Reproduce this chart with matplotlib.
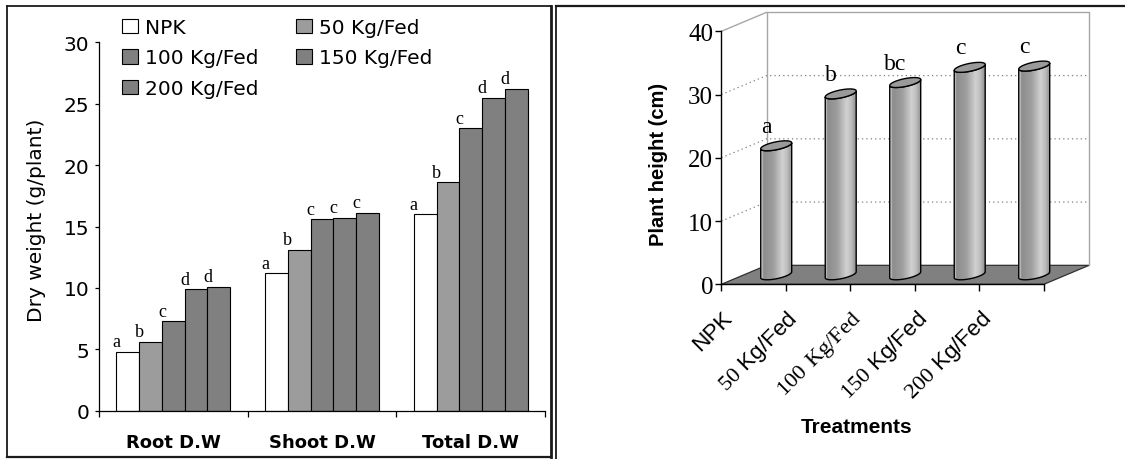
import numpy as np
import matplotlib
matplotlib.use("Agg")
import matplotlib.pyplot as plt
from matplotlib.patches import Polygon
from matplotlib.lines import Line2D

# ---------------- data: left chart ----------------
groups = ["Root D.W", "Shoot D.W", "Total D.W"]
treatments = ["NPK", "50 Kg/Fed", "100 Kg/Fed", "150 Kg/Fed", "200 Kg/Fed"]
dw_npk = [4.8, 11.2, 16.0]
dw_50 = [5.6, 13.1, 18.6]
dw_100 = [7.3, 15.6, 23.0]
dw_150 = [9.9, 15.7, 25.5]
dw_200 = [10.1, 16.1, 26.2]
letters_npk = ["a", "a", "a"]
letters_50 = ["b", "b", "b"]
letters_100 = ["c", "c", "c"]
letters_150 = ["d", "c", "d"]
letters_200 = ["d", "c", "d"]
dw_ticks = [0, 5, 10, 15, 20, 25, 30]

# ---------------- data: right chart ----------------
plant_height = [20.4, 28.6, 30.4, 32.8, 33.0]
height_letters = ["a", "b", "bc", "c", "c"]
height_ticks = [0, 10, 20, 30, 40]

plt.rcParams["mathtext.fontset"] = "custom"
plt.rcParams["mathtext.rm"] = "Liberation Serif"
plt.rcParams["font.family"] = ["DejaVu Sans"]

W, H = 1125, 460
fig = plt.figure(figsize=(W / 100, H / 100), dpi=100)


def fx(px):
    return px / W


def fy(py):
    return 1 - py / H


# ---------------- frames ----------------
frame_c = "#1a1a1a"
for (x0, y0, x1, y1, lw) in [
    (7, 7, 551, 7, 1.3), (7, 7, 7, 458, 1.3), (7, 458, 551, 458, 1.6),
    (551, 7, 551, 458, 2.0), (556, 7, 1125, 7, 1.6), (556, 7, 556, 460, 1.3)]:
    fig.add_artist(Line2D([fx(x0), fx(x1)], [fy(y0), fy(y1)],
                          transform=fig.transFigure, color=frame_c, lw=lw))

# ---------------- left chart ----------------
axL = fig.add_axes([fx(99), fy(411.7), fx(545) - fx(99), (411.7 - 43.3) / H])
series = [dw_npk, dw_50, dw_100, dw_150, dw_200]
letters = [letters_npk, letters_50, letters_100, letters_150, letters_200]
colors = ["white", "#9c9c9c", "#808080", "#808080", "#808080"]
bw = 0.153
xg = np.arange(len(groups))
handles = []
for i, (vals, c) in enumerate(zip(series, colors)):
    xs = xg + (i - 2) * bw
    b = axL.bar(xs, vals, width=bw, color=c, edgecolor="black", linewidth=0.8,
                label=treatments[i], zorder=2)
    handles.append(b)
    for xi, v, lt in zip(xs, vals, letters[i]):
        axL.annotate(lt, (xi - bw / 2, v), xytext=(0, 4), textcoords="offset points",
                     ha="center", va="baseline", fontfamily="Liberation Serif",
                     fontsize=13)

axL.set_xlim(-0.5, 2.5)
axL.set_ylim(0, 30)
axL.spines["top"].set_visible(False)
axL.spines["right"].set_visible(False)
for sp in ["left", "bottom"]:
    axL.spines[sp].set_linewidth(0.9)
axL.set_yticks(dw_ticks)
axL.tick_params(axis="y", labelsize=14.5, length=3, width=0.9, pad=4)
axL.set_xticks([-0.5, 0.5, 1.5, 2.5])
axL.set_xticklabels([])
axL.tick_params(axis="x", which="major", length=4.5, width=0.9)
axL.set_xticks(xg, minor=True)
axL.set_xticklabels(groups, minor=True, fontweight="bold", fontsize=13)
axL.tick_params(axis="x", which="minor", length=0, pad=16)

order = [0, 2, 4, 1, 3]
axL.legend([handles[k] for k in order], [treatments[k] for k in order], ncol=2,
           frameon=False, fontsize=14.5, loc="upper left",
           bbox_to_anchor=(fx(122.5), fy(19)), bbox_transform=fig.transFigure,
           borderpad=0, borderaxespad=0, handlelength=0.75, handleheight=0.75,
           handletextpad=0.35, columnspacing=1.9, labelspacing=0.57)

fig.text(fx(36.8), fy(220), "Dry weight (g/plant)", rotation=90, fontsize=14.5,
         ha="center", va="center")

# ---------------- right chart (pseudo 3-D cylinders) ----------------
x0px, ppx = 721.4, 64.5       # front axis x=0 pixel, pixels per category
y0px, ppy = 285.3, 6.325      # value 0 pixel, pixels per unit
L, R, T, B = 680, 1110, 8, 300
axR = fig.add_axes([fx(L), fy(B), fx(R) - fx(L), (B - T) / H])
xlim = ((L - x0px) / ppx, (R - x0px) / ppx)
ylim = ((y0px - B) / ppy, (y0px - T) / ppy)

n = len(plant_height)
ymax = height_ticks[-1]
dxu, dyu = 0.70, 3.0           # depth offset
wall_c = "#a6a6a6"

# floor
axR.add_patch(Polygon([(0, 0), (n, 0), (n + dxu, dyu), (dxu, dyu)], closed=True,
                      facecolor="#808080", edgecolor="#303030", lw=0.9, zorder=1))
# walls
axR.plot([dxu, dxu, n + dxu, n + dxu], [dyu, ymax + dyu, ymax + dyu, dyu],
         color=wall_c, lw=1.0, zorder=1)
axR.plot([0, dxu], [ymax, ymax + dyu], color=wall_c, lw=1.0, zorder=1)
for v in height_ticks[1:-1]:
    axR.plot([0, dxu, n + dxu], [v, v + dyu, v + dyu], color="#808080", lw=0.9,
             ls=(0, (1, 2.5)), zorder=1)

r, ry, s = 0.24, 0.63, 0.47
u = np.linspace(0, 1, 240)
shade = np.interp(u, [0, 0.03, 0.08, 0.4, 0.7, 0.85, 1.0],
                  [0.85, 0.78, 0.55, 0.62, 0.82, 0.74, 0.56])
tf = np.linspace(np.pi, 2 * np.pi, 80)
ta = np.linspace(0, 2 * np.pi, 160)
for i, v in enumerate(plant_height):
    cx = i + 0.5 + dxu / 2
    cb = dyu / 2
    ct = v + dyu / 2
    bx = cx + r * np.cos(tf)
    by = cb + ry * np.sin(tf) + s * np.cos(tf)
    tx = cx + r * np.cos(tf[::-1])
    ty = ct + ry * np.sin(tf[::-1]) + s * np.cos(tf[::-1])
    body = Polygon(np.column_stack([np.r_[bx, tx], np.r_[by, ty]]), closed=True,
                   facecolor="none", edgecolor="black", lw=1.0, zorder=4)
    axR.add_patch(body)
    im = axR.imshow(shade[None, :], cmap="gray", vmin=0, vmax=1,
                    extent=[cx - r, cx + r, cb - ry - s, ct + ry + s],
                    aspect="auto", interpolation="bilinear", zorder=3)
    im.set_clip_path(body)
    top = Polygon(np.column_stack([cx + r * np.cos(ta),
                                   ct + ry * np.sin(ta) + s * np.cos(ta)]),
                  closed=True, facecolor="#9a9a9a", edgecolor="black", lw=1.0,
                  zorder=5)
    axR.add_patch(top)
    axR.annotate(height_letters[i], (cx - 0.15, ct), xytext=(0, 10),
                 textcoords="offset points", ha="center", va="baseline",
                 fontfamily="Liberation Serif", fontsize=17, zorder=6)

axR.set_xlim(*xlim)
axR.set_ylim(*ylim)
axR.set_facecolor("none")
axR.spines["top"].set_visible(False)
axR.spines["right"].set_visible(False)
axR.spines["left"].set_position(("data", 0))
axR.spines["bottom"].set_position(("data", 0))
axR.spines["left"].set_bounds(0, ymax)
axR.spines["bottom"].set_bounds(0, n)
for sp in ["left", "bottom"]:
    axR.spines[sp].set_linewidth(1.0)
    axR.spines[sp].set_zorder(2)
axR.set_yticks(height_ticks)
axR.set_yticklabels([str(t) for t in height_ticks], fontfamily="Liberation Serif",
                    fontsize=18)
axR.tick_params(axis="y", length=4, width=1.0, pad=2)


def fmt_label(lbl):
    if " " not in lbl:
        return lbl
    num, unit = lbl.split(" ", 1)
    if num == "100":
        return r"$\mathrm{" + num + r"\ " + unit + "}$"
    return r"$\mathrm{" + num + "}$ " + unit


xt = [fmt_label(t) for t in treatments] + [""]
axR.set_xticks(np.arange(n + 1))
axR.set_xticklabels(xt, rotation=45, ha="right", va="top", rotation_mode="anchor",
                    fontfamily="Liberation Sans", fontsize=16.2)
axR.tick_params(axis="x", length=5, width=1.0, pad=11)

fig.text(fx(658), fy(164), "Plant height (cm)", rotation=90, fontsize=14.5,
         fontweight="bold", fontfamily="Liberation Sans", ha="center", va="center")
fig.text(fx(857), fy(428), "Treatments", fontsize=15, fontweight="bold",
         fontfamily="Liberation Sans", ha="center", va="center")

fig.savefig("out.png", dpi=100)
